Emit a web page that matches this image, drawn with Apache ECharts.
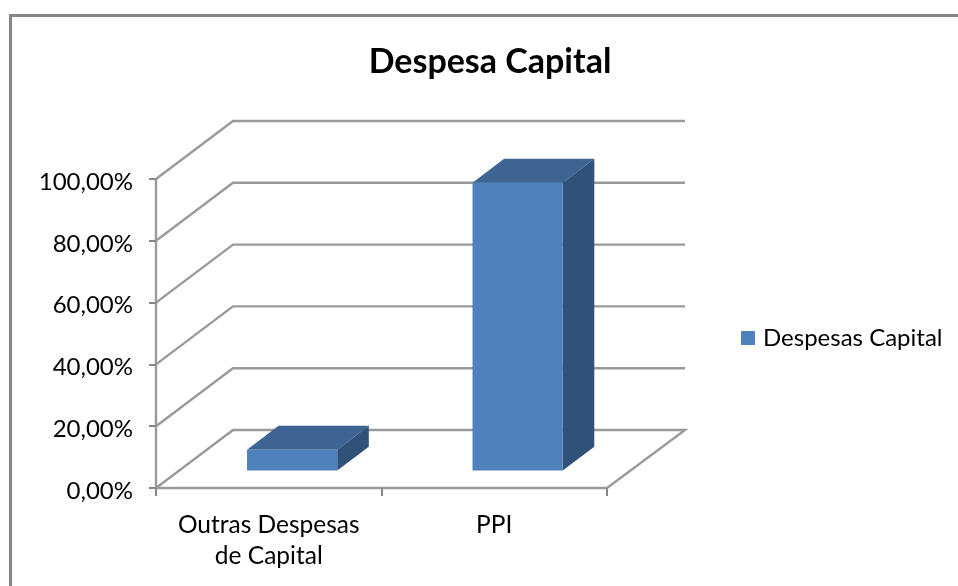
<!DOCTYPE html>
<html>
<head>
<meta charset="utf-8">
<style>html,body{margin:0;padding:0;background:#fff}#c{width:958px;height:586px}</style>
<script src="https://cdn.jsdelivr.net/npm/echarts@6/dist/echarts.min.js"></script>
</head>
<body>
<div id="c"></div>
<script>
const categories = ['Outras Despesas\nde Capital', 'PPI'];
const seriesName = 'Despesas Capital';
const values = [6.6, 93];
const ticks = [0, 20, 40, 60, 80, 100];
const titleText = 'Despesa Capital';

const font = 'Lato';
const wall = { dx: 77, dy: -58 };
const barFront = 0.31, barBack = 0.72, barWidthShare = 0.4;
const grey = '#9A9A9A';

function gridLines(params, api) {
  const cs = params.coordSys;
  const y = api.coord([0, api.value(1)])[1];
  const left = cs.x, right = cs.x + cs.width;
  const pts = [[left, y], [left + wall.dx, y + wall.dy], [right + wall.dx + 1, y + wall.dy]];
  if (api.value(1) === ticks[0]) pts.push([right, y]);
  return { type: 'polyline', silent: true,
    shape: { points: pts },
    style: { fill: null, stroke: grey, lineWidth: 2.4, lineJoin: 'miter' } };
}

function bar3d(params, api) {
  const c = api.value(0);
  const top = api.coord([c, api.value(1)]);
  const base = api.coord([c, 0]);
  const w = api.size([1, 0])[0] * barWidthShare;
  const fx = wall.dx * barFront, fy = wall.dy * barFront;
  const bx = wall.dx * barBack, by = wall.dy * barBack;
  const l = top[0] - w / 2 + fx - 0.5, r = top[0] + w / 2 + fx - 0.5;
  const t = top[1] + fy, b = base[1] + fy + 0.5;
  const ox = bx - fx, oy = by - fy;
  const color = api.visual('color');
  return { type: 'group', children: [
    { type: 'polygon', shape: { points: [[l, t], [l + ox, t + oy], [r + ox, t + oy], [r, t]] },
      style: { fill: '#3D6493' } },
    { type: 'polygon', shape: { points: [[r, t], [r + ox, t + oy], [r + ox, b + oy], [r, b]] },
      style: { fill: '#305279' } },
    { type: 'rect', shape: { x: l, y: t, width: r - l, height: b - t },
      style: { fill: color } }
  ] };
}

const chart = echarts.init(document.getElementById('c'), null, { renderer: 'canvas' });
chart.setOption({
  animation: false,
  backgroundColor: '#fff',
  title: { text: titleText, left: 485, top: 40, textAlign: 'center',
    textStyle: { fontFamily: font, fontSize: 34, fontWeight: 'bold', color: '#000' } },
  legend: { data: [seriesName], left: 741, top: 326, orient: 'vertical', icon: 'rect',
    itemWidth: 14, itemHeight: 14, itemGap: 0, padding: 0,
    textStyle: { fontFamily: font, fontSize: 24, color: '#000', padding: [2, 0, 0, 3] } },
  grid: { left: 156, right: 351, top: 179, bottom: 98, containLabel: false },
  xAxis: { type: 'category', data: categories, boundaryGap: true,
    axisLine: { lineStyle: { color: grey, width: 2.4 } },
    axisTick: { show: true, alignWithLabel: false, length: 8, lineStyle: { color: '#868686', width: 2 } },
    axisLabel: { interval: 0, margin: 22, lineHeight: 31, fontFamily: font, fontSize: 24.5, color: '#000' },
    splitLine: { show: false } },
  yAxis: { type: 'value', min: 0, max: 100, interval: 20,
    axisLine: { show: true, lineStyle: { color: grey, width: 2.4 } },
    axisTick: { show: true, length: 7, lineStyle: { color: '#868686', width: 2 } },
    axisLabel: { margin: 23, verticalAlign: 'top', lineHeight: 6, fontFamily: font, fontSize: 24, color: '#000',
      formatter: v => v.toFixed(2).replace('.', ',') + '%' },
    splitLine: { show: false } },
  graphic: [
    { type: 'polyline', silent: true, shape: { points: [[10.5, 586], [10.5, 15.5], [958, 15.5]] },
      style: { fill: null, stroke: '#868686', lineWidth: 3 } }
  ],
  series: [
    { type: 'custom', name: 'walls', renderItem: gridLines, clip: false, z: 1, silent: true,
      encode: { x: 0, y: 1 }, data: ticks.map(t => [0, t]) },
    { type: 'custom', name: seriesName, renderItem: bar3d, clip: false, z: 3,
      itemStyle: { color: '#4F81BD' }, encode: { x: 0, y: 1 },
      data: values.map((v, i) => [i, v]) }
  ]
});
</script>
</body>
</html>
